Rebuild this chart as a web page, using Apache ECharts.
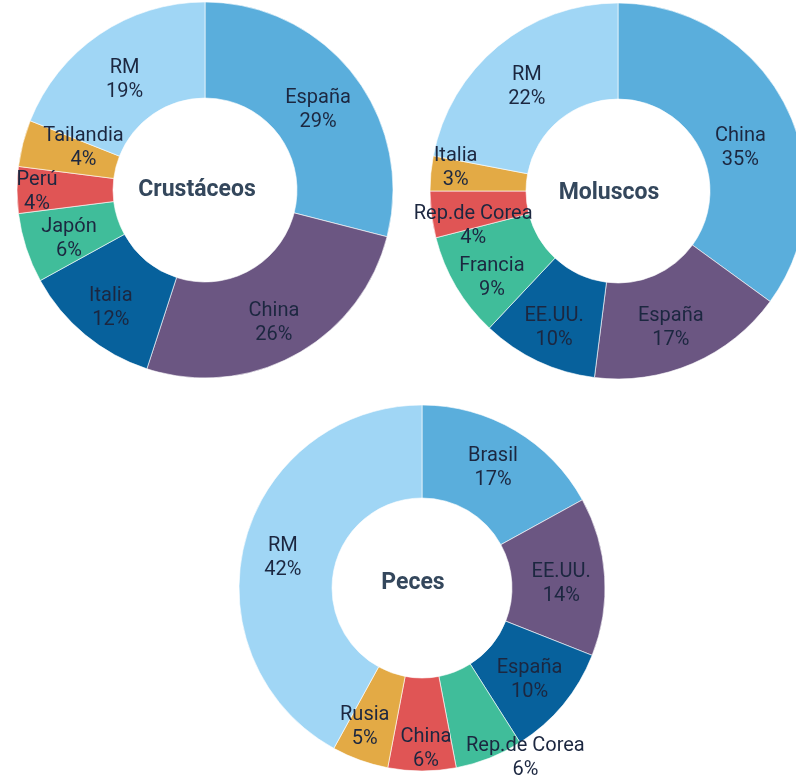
<!DOCTYPE html>
<html>
<head>
<meta charset="utf-8">
<script src="https://cdn.jsdelivr.net/npm/echarts@6/dist/echarts.min.js"></script>
<style>
html,body{margin:0;padding:0;background:#fff;}
#c{width:796px;height:776px;}
</style>
</head>
<body>
<div id="c"></div>
<script>
// ---- data ----
var crustaceosNames = ['España', 'China', 'Italia', 'Japón', 'Perú', 'Tailandia', 'RM'];
var crustaceosValues = [29, 26, 12, 6, 4, 4, 19];

var moluscosNames = ['China', 'España', 'EE.UU.', 'Francia', 'Rep.de Corea', 'Italia', 'RM'];
var moluscosValues = [35, 17, 10, 9, 4, 3, 22];

var pecesNames = ['Brasil', 'EE.UU.', 'España', 'Rep.de Corea', 'China', 'Rusia', 'RM'];
var pecesValues = [17, 14, 10, 6, 6, 5, 42];

var titles = ['Crustáceos', 'Moluscos', 'Peces'];

// ---- styling ----
var palette = ['#5aaedc', '#6b5682', '#07619c', '#40bd9a', '#e05555', '#e3aa45', '#a0d6f5'];
var labelColor = '#1c2740';
var titleColor = '#34475c';
var fontFam = 'Roboto, "Noto Sans", sans-serif';

// label offsets per chart (label styling only)
var offsetsCrus = [[0, 8], [0, 8], [-3, 8], [0, 5], [-25, 2], [17, -6], [0, 8]];
var offsetsMol = [[-5, 22], [-4, 6], [-3, 8], [-3, 14], [-3, 17], [-20, -10], [0, 6]];
var offsetsPec = [[0, 0], [0, 5], [0, 3], [52, 40], [4, 21], [-10, 8], [-4, 5]];

function buildData(names, values, offsets) {
  return names.map(function (n, i) {
    return {
      name: n,
      value: values[i],
      itemStyle: { color: palette[i] },
      label: { offset: offsets[i] }
    };
  });
}

function pieSeries(names, values, offsets, center, radius) {
  return {
    type: 'pie',
    center: center,
    radius: radius,
    startAngle: 90,
    clockwise: true,
    avoidLabelOverlap: false,
    silent: true,
    itemStyle: { borderColor: 'rgba(255,255,255,0.6)', borderWidth: 1 },
    label: {
      show: true,
      position: 'inside',
      formatter: '{b}\n{c}%',
      color: labelColor,
      fontFamily: fontFam,
      fontSize: 20,
      lineHeight: 24,
      align: 'center'
    },
    labelLayout: { hideOverlap: false },
    labelLine: { show: false },
    emphasis: { disabled: true },
    data: buildData(names, values, offsets)
  };
}

var chart = echarts.init(document.getElementById('c'), null, { renderer: 'canvas' });

var centers = [[205, 190], [618, 191], [422, 588]];
var titlePos = [[197, 190], [609, 193], [413, 583]];

chart.setOption({
  animation: false,
  backgroundColor: '#ffffff',
  series: [
    pieSeries(crustaceosNames, crustaceosValues, offsetsCrus, centers[0], [92, 188]),
    pieSeries(moluscosNames, moluscosValues, offsetsMol, centers[1], [92, 188]),
    pieSeries(pecesNames, pecesValues, offsetsPec, centers[2], [90, 183])
  ],
  graphic: titles.map(function (t, i) {
    return {
      type: 'text',
      x: titlePos[i][0],
      y: titlePos[i][1],
      z: 100,
      style: {
        text: t,
        align: 'center',
        verticalAlign: 'middle',
        fill: titleColor,
        fontFamily: fontFam,
        fontWeight: 'bold',
        fontSize: 23
      }
    };
  })
});
</script>
</body>
</html>
